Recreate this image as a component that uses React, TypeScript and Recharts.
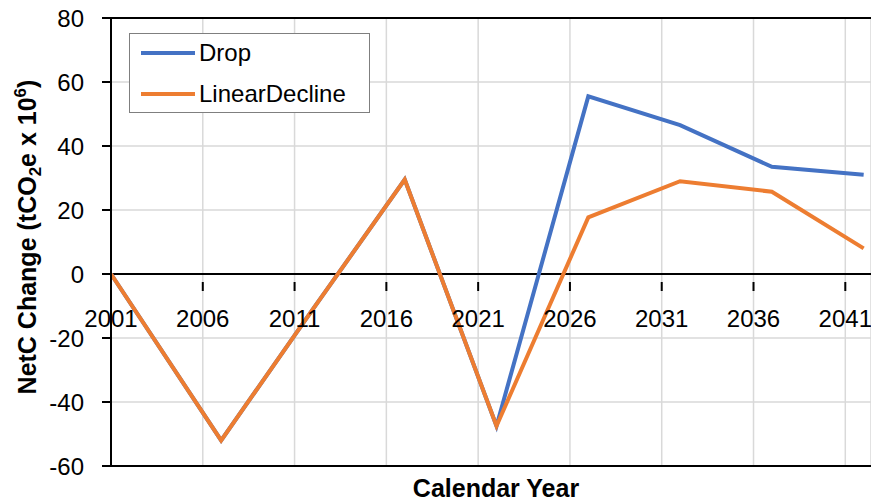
import React from 'react';
import { LineChart, Line, XAxis, YAxis, CartesianGrid, ReferenceLine, Legend } from 'recharts';

const YEARS = [2001, 2007, 2012, 2017, 2022, 2027, 2032, 2037, 2042];
const DROP = [0, -52, -11, 29.5, -47.5, 55.5, 46.5, 33.5, 31];
const LINEAR_DECLINE = [0, -52, -11, 29.5, -47.5, 17.7, 29, 25.7, 8];
const X_TICKS = [2001, 2006, 2011, 2016, 2021, 2026, 2031, 2036, 2041];
const Y_TICKS = [-60, -40, -20, 0, 20, 40, 60, 80];
const SERIES_NAMES = ['Drop', 'LinearDecline'];
const X_TITLE = 'Calendar Year';

const data = YEARS.map((year, i) => ({ year, Drop: DROP[i], LinearDecline: LINEAR_DECLINE[i] }));

const FONT = '"Liberation Sans", Arial, sans-serif';
const Y_MIN = -60;
const Y_MAX = 80;
const PLOT_H = 448;

const XTick = (props: any) => {
  const { x, y, payload } = props;
  const zeroY = y - (PLOT_H * (0 - Y_MIN)) / (Y_MAX - Y_MIN);
  return (
    <g>
      <line x1={x} x2={x} y1={zeroY} y2={zeroY + 9} stroke="#000" strokeWidth={2} />
      <text x={x} y={zeroY + 45} textAnchor="middle" fontSize={24} fontFamily={FONT} fill="#000">
        {payload.value}
      </text>
    </g>
  );
};

const YTitle = (props: any) => {
  const vb = props.viewBox || { x: 0, y: 18, width: 111, height: 448 };
  const cx = vb.x + 36;
  const cy = vb.y + vb.height / 2 - 5;
  return (
    <text
      x={cx}
      y={cy}
      transform={`rotate(-90, ${cx}, ${cy})`}
      textAnchor="middle"
      fontSize={25}
      fontWeight="bold"
      fontFamily={FONT}
      fill="#000"
    >
      <tspan>NetC Change (tCO</tspan>
      <tspan fontSize={17} dy={5}>2</tspan>
      <tspan dy={-5}>e x 10</tspan>
      <tspan fontSize={17} dy={-10}>6</tspan>
      <tspan dy={10}>)</tspan>
    </text>
  );
};

const XTitle = (props: any) => {
  const vb = props.viewBox || { x: 111, y: 466, width: 760, height: 38 };
  return (
    <text
      x={vb.x + vb.width / 2 + 5}
      y={vb.y + 31}
      textAnchor="middle"
      fontSize={25}
      fontWeight="bold"
      fontFamily={FONT}
      fill="#000"
    >
      {X_TITLE}
    </text>
  );
};

const LegendBox = (props: any) => {
  const payload = props.payload || [];
  const ordered = SERIES_NAMES.map((n) => payload.find((p: any) => p.value === n || p.dataKey === n)).filter(Boolean);
  return (
    <div
      style={{
        position: 'relative',
        width: 241,
        height: 80,
        boxSizing: 'border-box',
        border: '1.5px solid #7f7f7f',
        background: '#fff',
      }}
    >
      {ordered.map((p: any, i: number) => (
        <div key={p.value} style={{ position: 'absolute', left: 0, top: 19 + i * 41 - 15, height: 30, width: 240 }}>
          <svg width={60} height={30} style={{ position: 'absolute', left: 10, top: 0 }}>
            <line x1={1} x2={55} y1={15} y2={15} stroke={p.color} strokeWidth={4} />
          </svg>
          <span
            style={{
              position: 'absolute',
              left: 69,
              top: 0,
              lineHeight: '30px',
              fontSize: 24,
              fontFamily: FONT,
              color: '#000',
              whiteSpace: 'nowrap',
            }}
          >
            {p.value}
          </span>
        </div>
      ))}
    </div>
  );
};

export default function App() {
  return (
    <div style={{ position: 'absolute', left: 0, top: 0, width: 871, height: 504, background: '#fff' }}>
      <LineChart width={871} height={504} data={data} margin={{ top: 18, right: 0, bottom: 0, left: 0 }}>
        <CartesianGrid stroke="#d9d9d9" strokeWidth={1.5} />
        <XAxis
          dataKey="year"
          type="number"
          domain={[2001, 2042.4]}
          ticks={X_TICKS}
          interval={0}
          height={38}
          axisLine={false}
          tickLine={false}
          tick={<XTick />}
          allowDataOverflow
          label={<XTitle />}
        />
        <YAxis
          type="number"
          domain={[Y_MIN, Y_MAX]}
          ticks={Y_TICKS}
          interval={0}
          width={111}
          axisLine={{ stroke: '#000', strokeWidth: 2 }}
          tickLine={{ stroke: '#000', strokeWidth: 2 }}
          tickSize={9}
          tickMargin={18}
          tick={{ fill: '#000', fontSize: 24, fontFamily: FONT }}
          label={<YTitle />}
        />
        <ReferenceLine y={80} stroke="#000" strokeWidth={2} />
        <ReferenceLine y={0} stroke="#000" strokeWidth={2} />
        <ReferenceLine y={-60} stroke="#000" strokeWidth={2} />
        <Line
          type="linear"
          dataKey="Drop"
          name="Drop"
          stroke="#4472C4"
          strokeWidth={4}
          dot={false}
          isAnimationActive={false}
        />
        <Line
          type="linear"
          dataKey="LinearDecline"
          name="LinearDecline"
          stroke="#ED7D31"
          strokeWidth={4}
          dot={false}
          isAnimationActive={false}
        />
        <Legend
          layout="vertical"
          align="center"
          verticalAlign="middle"
          content={<LegendBox />}
          wrapperStyle={{ position: 'absolute', left: 129, top: 33, width: 241, height: 80 }}
        />
      </LineChart>
    </div>
  );
}
